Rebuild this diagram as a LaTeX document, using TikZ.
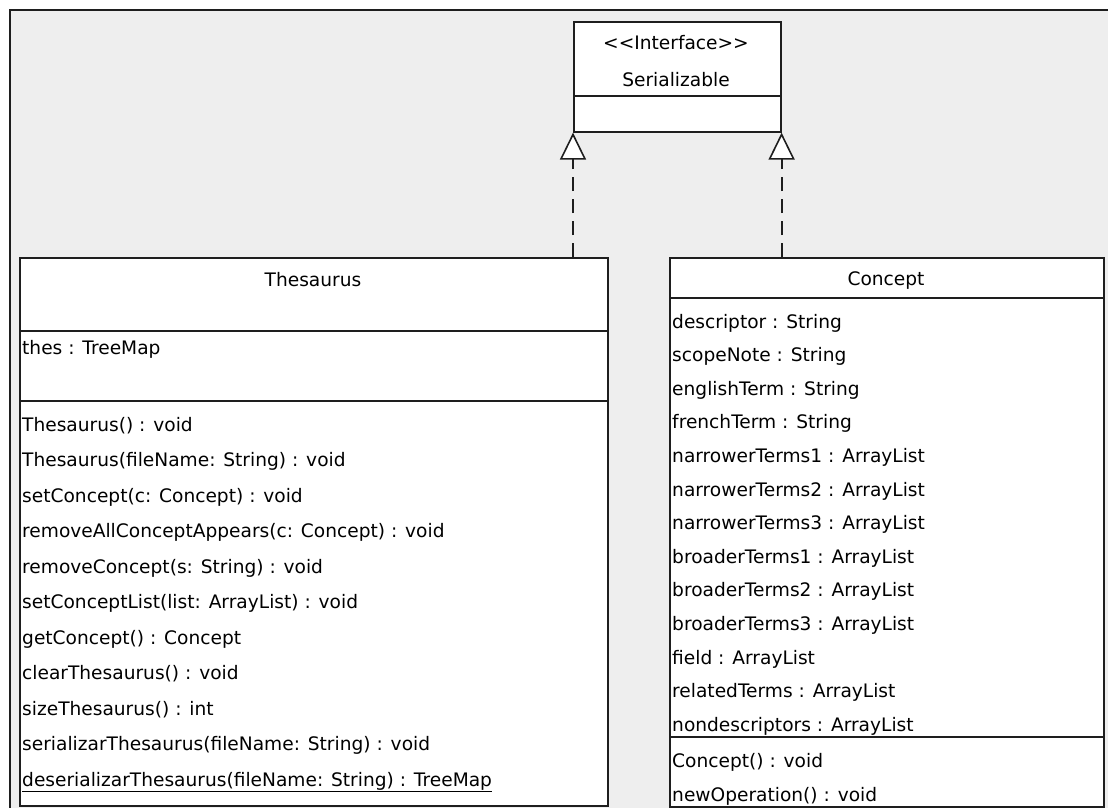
\documentclass[tikz,border=0pt]{standalone}
\usepackage{fontspec}
\setmainfont{DejaVu Sans}
\usetikzlibrary{arrows.meta}
\definecolor{canvasgray}{HTML}{EEEEEE}
\definecolor{umlline}{HTML}{1E1E1E}

\begin{document}
\begin{tikzpicture}[x=1pt,y=-1pt,
  classbox/.style={draw=umlline,line width=1.6pt,fill=white,rectangle,inner sep=0pt,anchor=north west},
  compline/.style={draw=umlline,line width=1.6pt},
  member/.style={anchor=base west,inner sep=0pt,font=\fontsize{18.6}{20}\selectfont},
  title/.style={anchor=base,inner sep=0pt,font=\fontsize{18.6}{20}\selectfont},
  realize/.style={draw=umlline,line width=1.8pt,dash pattern=on 14pt off 8pt,
    -{Triangle[length=27pt,width=26pt,fill=white,line width=1.6pt]}}]
\useasboundingbox (0,0) rectangle (1108,808);
% diagram canvas
\fill[canvasgray] (10,10) rectangle (1108,808);
\draw[umlline,line width=1.4pt] (10,808) -- (10,10) -- (1108,10);

% interface
\node[classbox,minimum width=207pt,minimum height=110pt] (ser) at (573,21) {};
\draw[compline] ([yshift=-75pt]ser.north west) -- ([yshift=-75pt]ser.north east);
\node[title] (serstereo) at (676,50) {{<}{<}Interface{>}{>}};
\node[title] (sername) at (676,86) {Serializable};

% Thesaurus
\node[classbox,minimum width=588pt,minimum height=548pt] (thes) at (19,257) {};
\draw[compline] ([yshift=-74pt]thes.north west) -- ([yshift=-74pt]thes.north east);
\draw[compline] ([yshift=-144pt]thes.north west) -- ([yshift=-144pt]thes.north east);
\node[title] (thesname) at (313,286) {Thesaurus};
\node[member] (thesattr) at (22,354) {thes : TreeMap};
\foreach \m [count=\i from 0] in {%
  {Thesaurus() : void},
  {Thesaurus(fileName: String) : void},
  {setConcept(c: Concept) : void},
  {removeAllConceptAppears(c: Concept) : void},
  {removeConcept(s: String) : void},
  {setConceptList(list: ArrayList) : void},
  {getConcept() : Concept},
  {clearThesaurus() : void},
  {sizeThesaurus() : int},
  {serializarThesaurus(fileName: String) : void},
  {\underline{deserializarThesaurus(fileName: String) : TreeMap}}}
  \node[member] (thesop\i) at (22,{431+35.5*\i}) {\m};

% Concept
\node[classbox,minimum width=434pt,minimum height=549pt] (conc) at (669,257) {};
\draw[compline] ([yshift=-41pt]conc.north west) -- ([yshift=-41pt]conc.north east);
\draw[compline] ([yshift=-480pt]conc.north west) -- ([yshift=-480pt]conc.north east);
\node[title] (concname) at (886,285) {Concept};
\foreach \m [count=\i from 0] in {%
  {descriptor : String},
  {scopeNote : String},
  {englishTerm : String},
  {frenchTerm : String},
  {narrowerTerms1 : ArrayList},
  {narrowerTerms2 : ArrayList},
  {narrowerTerms3 : ArrayList},
  {broaderTerms1 : ArrayList},
  {broaderTerms2 : ArrayList},
  {broaderTerms3 : ArrayList},
  {field : ArrayList},
  {relatedTerms : ArrayList},
  {nondescriptors : ArrayList}}
  \node[member] (concattr\i) at (672,{328+33.6*\i}) {\m};
\node[member] (concop0) at (672,767) {Concept() : void};
\node[member] (concop1) at (672,801) {newOperation() : void};

% realizations
\draw[realize] (thes.north -| ser.south west) -- (ser.south west);
\draw[realize] (conc.north -| ser.south east) -- (ser.south east);
\end{tikzpicture}
\end{document}
